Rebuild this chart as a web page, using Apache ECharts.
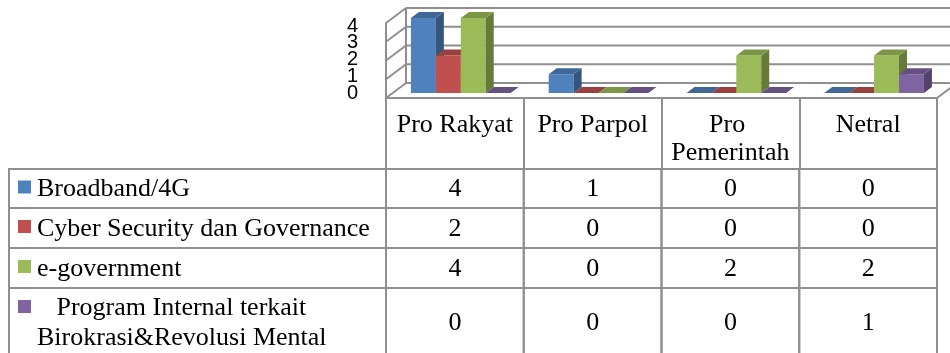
<!DOCTYPE html>
<html lang="en">
<head>
    <meta charset="UTF-8">
    <title>Chart</title>
    <script src="https://cdn.jsdelivr.net/npm/echarts@6/dist/echarts.min.js"></script>
    <style>
        html, body { margin: 0; padding: 0; background: #fff; }
        #main { width: 950px; height: 353px; }
    </style>
</head>
<body>
<div id="main"></div>
<script>
    // data
    var categories = ['Pro Rakyat', 'Pro Parpol', 'Pro Pemerintah', 'Netral'];
    var seriesNames = ['Broadband/4G', 'Cyber Security dan Governance', 'e-government',
        '   Program Internal terkait\nBirokrasi&Revolusi Mental'];
    var broadband = [4, 1, 0, 0];
    var cyberSecurity = [2, 0, 0, 0];
    var eGovernment = [4, 0, 2, 2];
    var programInternal = [0, 0, 0, 1];
    var yTicks = [0, 1, 2, 3, 4];

    var allValues = [broadband, cyberSecurity, eGovernment, programInternal];
    var colors = ['#4F81BD', '#C0504D', '#9BBB59', '#8064A2'];

    // layout
    var GRID_LEFT = 386, GRID_RIGHT = 13;
    var DEPTH = [20, -15];      // floor / wall depth
    var BAR_FRONT = [0, -5];    // bars sit a bit behind the front plane
    var BAR_DEPTH = [8, -6];
    var BAR_START = 0.181, BAR_W = 0.181;
    var LABEL_SQUEEZE = 0.893;  // tick labels are packed tighter than the ticks
    var LINE = '#8f8f8f';
    var ROW_TOPS = [169, 208, 248, 288, 357];
    var TABLE_LEFT = 9;
    var SERIF = 'Liberation Serif';

    function shade(hex, k) {
        var n = parseInt(hex.slice(1), 16);
        var r = Math.round(((n >> 16) & 255) * k), g = Math.round(((n >> 8) & 255) * k), b = Math.round((n & 255) * k);
        return 'rgb(' + r + ',' + g + ',' + b + ')';
    }

    function line(x1, y1, x2, y2) {
        return {type: 'line', shape: {x1: x1, y1: y1, x2: x2, y2: y2}, style: {stroke: LINE, lineWidth: 2}};
    }

    // back wall, side wall and floor edges from the value ticks, plus the tick labels
    function renderWalls(params, api) {
        var t = api.value(1);
        var band = api.size([1, 0])[0];
        var p = api.coord([0, t]);
        var xl = p[0] - band / 2;
        var xr = api.coord([categories.length - 1, t])[0] + band / 2;
        var y = p[1];
        var y0 = api.coord([0, 0])[1];
        var kids = [
            line(xl, y, xl + DEPTH[0], y + DEPTH[1]),
            line(xl + DEPTH[0], y + DEPTH[1], xr + DEPTH[0], y + DEPTH[1]),
            {type: 'text', style: {text: String(t), x: xl - 28, y: y0 - 5 - (y0 - y) * LABEL_SQUEEZE,
                    fill: '#000', fontFamily: 'Liberation Sans', fontSize: 20, align: 'right', verticalAlign: 'middle'}}
        ];
        if (t === 0) {
            var yt = api.coord([0, yTicks[yTicks.length - 1]])[1];
            kids.push(line(xl + DEPTH[0], y + DEPTH[1], xl + DEPTH[0], yt + DEPTH[1]));
            kids.push(line(xr, y, xr + DEPTH[0], y + DEPTH[1]));
        }
        return {type: 'group', children: kids};
    }

    function makeBarRenderer(s) {
        var front = colors[s], top = shade(colors[s], 0.8), side = shade(colors[s], 0.66);
        return function (params, api) {
            var c = api.value(0), v = api.value(1);
            var band = api.size([1, 0])[0];
            var bandStart = api.coord([c, 0])[0] - band / 2;
            var x0 = bandStart + band * (BAR_START + s * BAR_W) + BAR_FRONT[0];
            var x1 = x0 + band * BAR_W;
            var yb = api.coord([c, 0])[1] + BAR_FRONT[1];
            var yt = api.coord([c, v])[1] + BAR_FRONT[1];
            var dx = BAR_DEPTH[0], dy = BAR_DEPTH[1];
            return {
                type: 'group',
                children: [
                    {type: 'polygon', shape: {points: [[x0, yt], [x1, yt], [x1, yb], [x0, yb]]}, style: {fill: front}},
                    {type: 'polygon', shape: {points: [[x1, yt], [x1 + dx, yt + dy], [x1 + dx, yb + dy], [x1, yb]]}, style: {fill: side}},
                    {type: 'polygon', shape: {points: [[x0, yt], [x0 + dx, yt + dy], [x1 + dx, yt + dy], [x1, yt]]}, style: {fill: top}}
                ]
            };
        };
    }

    // value cells of the data table
    function renderTable(params, api) {
        var c = api.value(0), s = api.value(1), v = api.value(2);
        var band = api.size([1, 0])[0];
        var cx = api.coord([c, 0])[0];
        var y0 = ROW_TOPS[s], y1 = ROW_TOPS[s + 1];
        return {
            type: 'group',
            children: [
                {type: 'rect', shape: {x: cx - band / 2, y: y0, width: band, height: y1 - y0},
                    style: {fill: 'none', stroke: LINE, lineWidth: 2}},
                {type: 'text', style: {text: String(v), x: cx, y: (y0 + y1) / 2 + 1, fill: '#000',
                        fontFamily: SERIF, fontSize: 26, align: 'center', verticalAlign: 'middle'}}
            ]
        };
    }

    var series = [{
        type: 'custom',
        renderItem: renderWalls,
        data: yTicks.map(function (t) { return [0, t]; }),
        silent: true
    }];
    allValues.forEach(function (vals, s) {
        series.push({
            type: 'custom',
            name: seriesNames[s],
            renderItem: makeBarRenderer(s),
            encode: {x: 0, y: 1},
            data: vals.map(function (v, c) { return [c, v]; })
        });
    });
    var tableData = [];
    allValues.forEach(function (vals, s) {
        vals.forEach(function (v, c) { tableData.push([c, s, v]); });
    });
    series.push({
        type: 'custom',
        renderItem: renderTable,
        encode: {x: 0, y: 1},
        data: tableData,
        silent: true
    });

    // legend column of the data table
    var graphics = [];
    seriesNames.forEach(function (name, s) {
        var y0 = ROW_TOPS[s], y1 = ROW_TOPS[s + 1];
        var multi = name.indexOf('\n') >= 0;
        graphics.push({type: 'rect', shape: {x: TABLE_LEFT, y: y0, width: GRID_LEFT - TABLE_LEFT, height: y1 - y0},
            style: {fill: 'none', stroke: LINE, lineWidth: 2}});
        graphics.push({type: 'rect', shape: {x: 18, y: multi ? y0 + 12 : (y0 + y1) / 2 - 8, width: 13, height: 13},
            style: {fill: colors[s]}});
        graphics.push({type: 'text', style: {text: name, x: 37, y: (y0 + y1) / 2 + 1, fill: '#000',
                fontFamily: SERIF, fontSize: 26, lineHeight: 30, align: 'left', verticalAlign: 'middle'}});
    });

    var chart = echarts.init(document.getElementById('main'));
    chart.setOption({
        animation: false,
        backgroundColor: '#fff',
        grid: {left: GRID_LEFT, right: GRID_RIGHT, top: 23, bottom: 255},
        xAxis: {
            type: 'category',
            data: categories,
            axisLine: {show: true, lineStyle: {color: LINE, width: 2}},
            axisTick: {show: true, length: 71, alignWithLabel: false, interval: 0,
                lineStyle: {color: LINE, width: 2}},
            axisLabel: {interval: 0, margin: 13, color: '#000', fontFamily: SERIF, fontSize: 26,
                lineHeight: 28, width: 132, overflow: 'break', verticalAlign: 'top'},
            splitLine: {show: false}
        },
        yAxis: {
            type: 'value',
            min: 0, max: 4, interval: 1,
            axisLine: {show: true, lineStyle: {color: LINE, width: 2}},
            axisTick: {show: false},
            axisLabel: {show: false},
            splitLine: {show: false}
        },
        graphic: graphics,
        series: series
    });
</script>
</body>
</html>
